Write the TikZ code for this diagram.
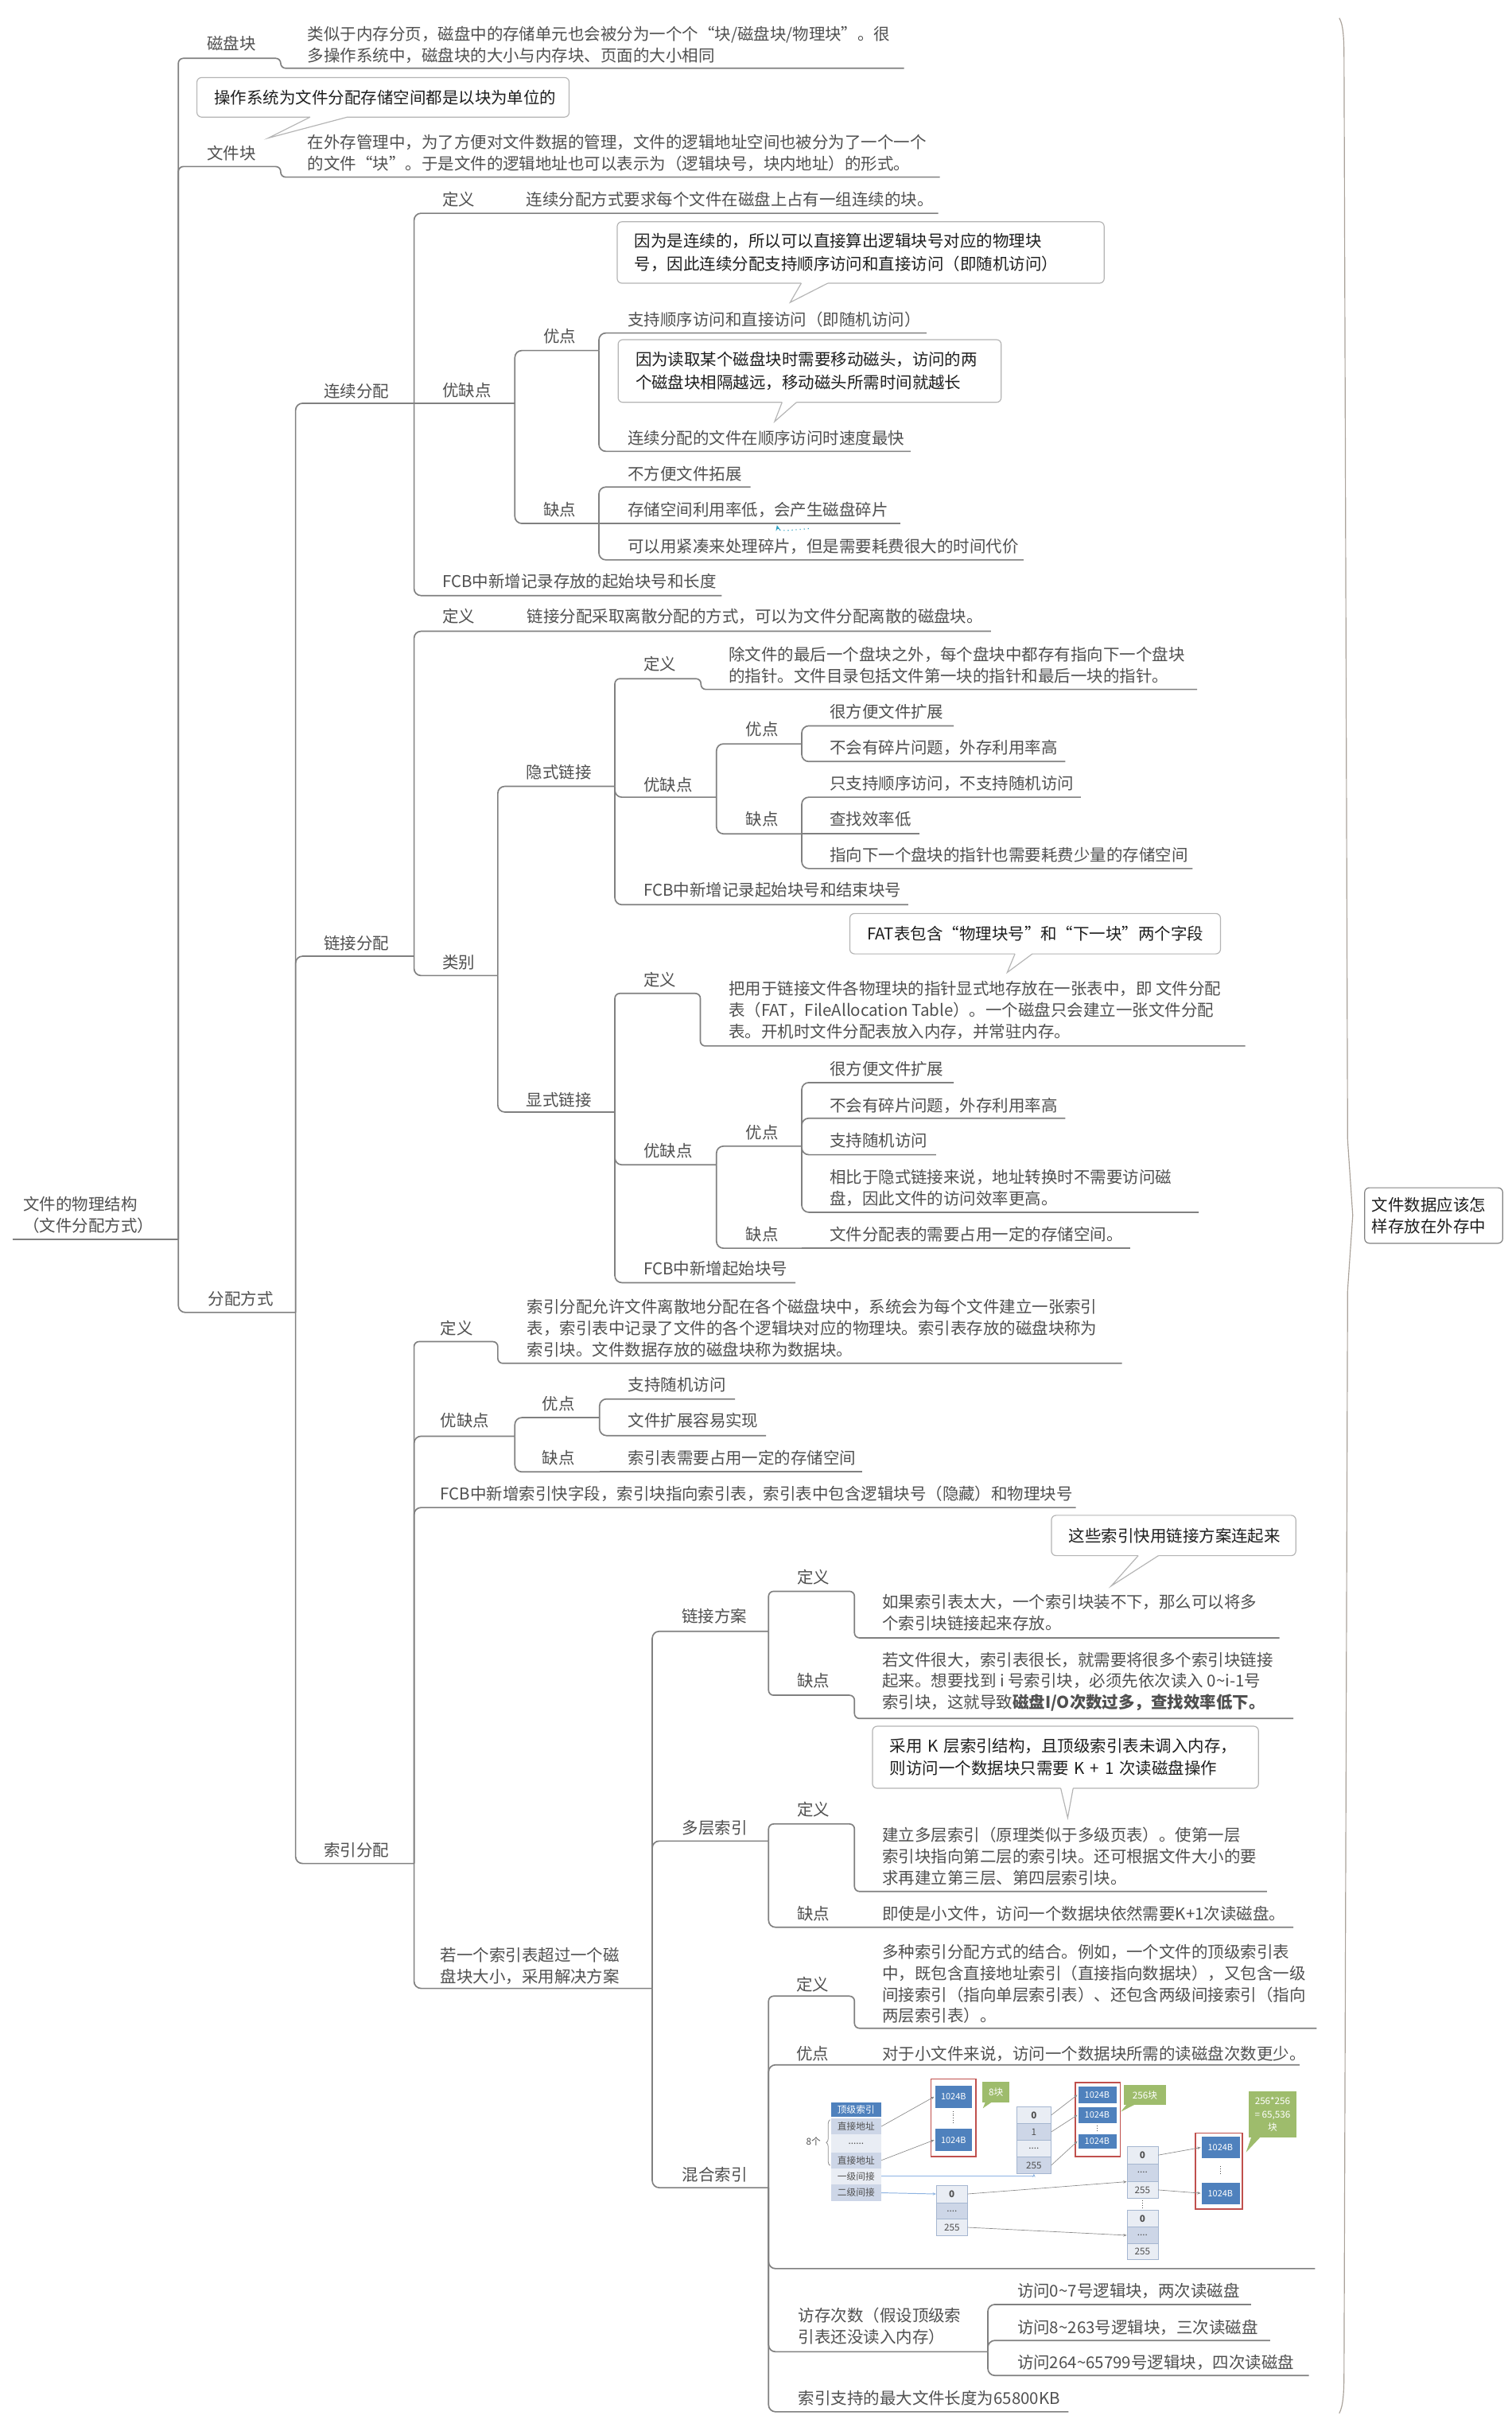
\documentclass[tikz,border=0pt]{standalone}
\usepackage{fontspec}
\setmainfont{Noto Sans CJK SC}
\usetikzlibrary{arrows.meta,decorations.pathreplacing,calc}
\definecolor{linec}{RGB}{128,128,128}
\definecolor{txtc}{RGB}{80,80,80}
\definecolor{ctxt}{RGB}{30,30,30}
\definecolor{cbord}{RGB}{180,180,180}
\definecolor{brkc}{RGB}{170,162,154}
\definecolor{dblue}{RGB}{79,129,189}
\definecolor{rowa}{RGB}{205,214,231}
\definecolor{rowb}{RGB}{233,237,244}
\definecolor{cellbd}{RGB}{165,182,208}
\definecolor{redf}{RGB}{192,80,77}
\definecolor{grn}{RGB}{158,188,108}
\definecolor{arrc}{RGB}{140,140,140}
\definecolor{arrb}{RGB}{141,179,226}
\definecolor{tealc}{RGB}{49,161,193}
\newcommand\nfont{\fontsize{10.5pt}{13.8pt}\selectfont}
\newcommand\cfont{\fontsize{10.5pt}{14.5pt}\selectfont}
\newcommand\dfont{\fontsize{6pt}{7pt}\selectfont}
\newcommand\bfont{\fontsize{5.6pt}{6pt}\selectfont}
\newcommand\ctail[3]{\fill[white] ($#1+(0,-1.2)$) -- #1 -- #3 -- #2 -- ($#2+(0,-1.2)$) -- cycle;
  \draw[draw=cbord,line width=0.6pt] #1 -- #3 -- #2;}
\begin{document}
\begin{tikzpicture}[x=1pt,y=-1pt,
 lbl/.style={anchor=west,inner sep=0pt,outer sep=0pt,align=left,text=txtc,font=\nfont},
 ln/.style={draw=linec,line width=0.85pt,rounded corners=4.5pt},
 lns/.style={draw=linec,line width=0.85pt,rounded corners=3.2pt},
 cbox/.style={draw=cbord,line width=0.6pt,fill=white,rounded corners=3pt,anchor=north west,
   inner xsep=11.2pt,inner ysep=0pt,outer sep=0pt,align=left,text=ctxt,font=\cfont},
 sbox/.style={draw=linec,line width=0.6pt,rounded corners=3pt,anchor=north west,
   inner xsep=4.6pt,inner ysep=0pt,outer sep=0pt,align=left,text=ctxt,font=\nfont},
 dhead/.style={fill=dblue,text=white,font=\dfont,inner sep=0pt,minimum width=32.3pt},
 drow/.style={text=txtc,font=\dfont,inner sep=0pt,minimum width=32.3pt},
 dcell/.style={draw=cellbd,line width=0.3pt,text=txtc,font=\dfont,inner sep=0pt},
 dblk/.style={fill=dblue,draw=white,line width=0.3pt,text=white,font=\bfont,inner sep=0pt},
 dframe/.style={draw=redf,line width=0.8pt,inner sep=0pt},
 dgreen/.style={fill=grn,text=white,font=\dfont,inner sep=0pt,align=center},
 darr/.style={draw=arrc,line width=0.35pt,-{Stealth[length=2.2pt,width=1.8pt]}},
 darrb/.style={draw=arrb,line width=0.5pt,-{Stealth[length=2.2pt,width=1.8pt]}},
 dotl/.style={draw=txtc,line width=0.5pt,densely dotted},
 brk/.style={draw=brkc,line width=0.6pt}
]
\useasboundingbox (0,0) rectangle (975,1567.4);
\fill[white] (0,0) rectangle (975,1567.4);

% ---------------- root
\node[lbl] (root) at (15,783.5) {文件的物理结构\\（文件分配方式）};
\coordinate (rootS) at (8,799);
\coordinate (rootE) at (115,799);
\draw[ln] (rootS) -- (rootE);

% ---------------- level 1
\node[lbl] (cpk) at (133.6,28.2) {磁盘块};
\coordinate (cpkE) at (181,37.6);
\node[lbl] (cpkd) at (198.4,29) {类似于内存分页，磁盘中的存储单元也会被分为一个个“块/磁盘块/物理块”。很\\多操作系统中，磁盘块的大小与内存块、页面的大小相同};
\coordinate (cpkdE) at (583,44);
\node[lbl] (wjk) at (133.6,98.8) {文件块};
\coordinate (wjkE) at (181,107.4);
\node[lbl] (wjkd) at (198.4,98.7) {在外存管理中，为了方便对文件数据的管理，文件的逻辑地址空间也被分为了一个一个\\的文件“块”。于是文件的逻辑地址也可以表示为（逻辑块号，块内地址）的形式。};
\coordinate (wjkdE) at (606,114.2);
\node[lbl] (fpfs) at (134.2,837.3) {分配方式};
\coordinate (fpfsE) at (190.6,846.2);

\draw[lns] (rootE) |- (cpkE) |- (cpkdE);
\draw[lns] (rootE) |- (wjkE) |- (wjkdE);
\draw[ln] (rootE) |- (fpfsE);

\node[cbox,minimum height=25.5pt,text width=217.6pt] (c0) at (127,50) {\mbox{操作系统为文件分配存储空间都是以块为单位的}};
\ctail{(200,75.5)}{(224,75.5)}{(173,89)}

% ---------------- level 2
\node[lbl] (lxfp) at (209,252.3) {连续分配};
\coordinate (lxfpE) at (267,260);
\node[lbl] (ljfp) at (209,608) {链接分配};
\coordinate (ljfpE) at (267,616.5);
\node[lbl] (syfp) at (209,1193) {索引分配};
\coordinate (syfpE) at (267,1201.5);
\draw[ln] (fpfsE) |- (lxfpE);
\draw[ln] (fpfsE) |- (ljfpE);
\draw[ln] (fpfsE) |- (syfpE);

% ---------------- 连续分配
\node[lbl] (lxdy) at (285.2,128.4) {定义};
\coordinate (lxdyE) at (321.5,137.5);
\node[lbl] (lxdyd) at (339.5,128.4) {连续分配方式要求每个文件在磁盘上占有一组连续的块。};
\coordinate (lxdydE) at (605,137.5);
\node[lbl] (lxyqd) at (285.2,251.5) {优缺点};
\coordinate (lxyqdE) at (332,260);
\node[lbl] (lxyd) at (350.4,217) {优点};
\coordinate (lxydE) at (386.2,226);
\node[lbl] (lxy1) at (404.8,205.9) {支持顺序访问和直接访问（即随机访问）};
\coordinate (lxy1E) at (597.5,214.7);
\node[lbl] (lxy2) at (404.8,282.4) {连续分配的文件在顺序访问时速度最快};
\coordinate (lxy2E) at (587.2,291);
\node[lbl] (lxqd) at (350.4,328.6) {缺点};
\coordinate (lxqdE) at (386.2,337.5);
\node[lbl] (lxq1) at (404.8,305.3) {不方便文件拓展};
\coordinate (lxq1E) at (484,314);
\node[lbl] (lxq2) at (404.8,328.6) {存储空间利用率低，会产生磁盘碎片};
\coordinate (lxq2E) at (580.4,337.5);
\node[lbl] (lxq3) at (404.8,352.1) {可以用紧凑来处理碎片，但是需要耗费很大的时间代价};
\coordinate (lxq3E) at (660,361);
\node[lbl] (lxfcb) at (285.2,375) {FCB中新增记录存放的起始块号和长度};
\coordinate (lxfcbE) at (465.4,384);

\draw[ln] (lxfpE) |- (lxdyE) -- (lxdydE);
\draw[ln] (lxfpE) -- (lxyqdE);
\draw[ln] (lxfpE) |- (lxfcbE);
\draw[ln] (lxyqdE) |- (lxydE);
\draw[ln] (lxyqdE) |- (lxqdE);
\draw[ln] (lxydE) |- (lxy1E);
\draw[ln] (lxydE) |- (lxy2E);
\draw[ln] (lxqdE) |- (lxq1E);
\draw[ln] (lxqdE) -- (lxq2E);
\draw[ln] (lxqdE) |- (lxq3E);

\node[cbox,minimum height=39.6pt,text width=291.6pt] (c1) at (398,143) {\mbox{因为是连续的，所以可以直接算出逻辑块号对应的物理块}\\\mbox{号，因此连续分配支持顺序访问和直接访问（即随机访问）}};
\ctail{(516.7,182.6)}{(533.8,182.6)}{(509.5,195)}
\node[cbox,minimum height=40.4pt,text width=224.6pt] (c2) at (398.6,219) {\mbox{因为读取某个磁盘块时需要移动磁头，访问的两}\\\mbox{个磁盘块相隔越远，移动磁头所需时间就越长}};
\ctail{(504.3,259.4)}{(513.6,259.4)}{(499.5,271.8)}

\draw[draw=tealc,line width=0.6pt,dotted,-{Stealth[length=3.5pt,width=3pt]}] (521.5,340.8) .. controls (510,341.8) and (502,343) .. (501,338.6);

% ---------------- 链接分配
\node[lbl] (ljdy) at (285.2,397.4) {定义};
\coordinate (ljdyE) at (321.5,407);
\node[lbl] (ljdyd) at (339.9,397.4) {链接分配采取离散分配的方式，可以为文件分配离散的磁盘块。};
\coordinate (ljdydE) at (639,407);
\node[lbl] (ljlb) at (285.2,620.5) {类别};
\coordinate (ljlbE) at (321,629);
\draw[ln] (ljfpE) |- (ljdyE) -- (ljdydE);
\draw[ln] (ljfpE) |- (ljlbE);

\node[lbl] (yslj) at (339.5,498) {隐式链接};
\coordinate (ysljE) at (396.5,507);
\node[lbl] (ysdy) at (415,428) {定义};
\coordinate (ysdyE) at (452,437.6);
\node[lbl] (ysdyd) at (470,429) {除文件的最后一个盘块之外，每个盘块中都存有指向下一个盘块\\的指针。文件目录包括文件第一块的指针和最后一块的指针。};
\coordinate (ysdydE) at (772,444.5);
\node[lbl] (ysyqd) at (415,506) {优缺点};
\coordinate (ysyqdE) at (462,514);
\node[lbl] (ysyd) at (481,470) {优点};
\coordinate (ysydE) at (517,479.6);
\node[lbl] (ysy1) at (535,459) {很方便文件扩展};
\coordinate (ysy1E) at (615,468);
\node[lbl] (ysy2) at (535,482) {不会有碎片问题，外存利用率高};
\coordinate (ysy2E) at (687,491);
\node[lbl] (ysqd) at (481,528) {缺点};
\coordinate (ysqdE) at (517,537.6);
\node[lbl] (ysq1) at (535,505) {只支持顺序访问，不支持随机访问};
\coordinate (ysq1E) at (697,514);
\node[lbl] (ysq2) at (535,528) {查找效率低};
\coordinate (ysq2E) at (593,537.6);
\node[lbl] (ysq3) at (535,551) {指向下一个盘块的指针也需要耗费少量的存储空间};
\coordinate (ysq3E) at (769,560);
\node[lbl] (ysfcb) at (415,574) {FCB中新增记录起始块号和结束块号};
\coordinate (ysfcbE) at (585.6,583.3);

\draw[ln] (ljlbE) |- (ysljE);
\draw[lns] (ysljE) |- (ysdyE) |- (ysdydE);
\draw[ln] (ysljE) |- (ysyqdE);
\draw[ln] (ysljE) |- (ysfcbE);
\draw[ln] (ysyqdE) |- (ysydE);
\draw[ln] (ysyqdE) |- (ysqdE);
\draw[ln] (ysydE) |- (ysy1E);
\draw[ln] (ysydE) |- (ysy2E);
\draw[ln] (ysqdE) |- (ysq1E);
\draw[ln] (ysqdE) -- (ysq2E);
\draw[ln] (ysqdE) |- (ysq3E);

\node[lbl] (xslj) at (339.5,709) {显式链接};
\coordinate (xsljE) at (396.5,717);
\node[lbl] (xsdy) at (415,631.6) {定义};
\coordinate (xsdyE) at (451.6,640.5);
\node[lbl] (xsdyd) at (470,651.2) {把用于链接文件各物理块的指针显式地存放在一张表中，即 文件分配\\表（FAT，FileAllocation Table）。一个磁盘只会建立一张文件分配\\表。开机时文件分配表放入内存，并常驻内存。};
\coordinate (xsdydE) at (803,674.4);
\node[lbl] (xsyqd) at (415,742) {优缺点};
\coordinate (xsyqdE) at (462,751);
\node[lbl] (xsyd) at (481,730) {优点};
\coordinate (xsydE) at (517,739);
\node[lbl] (xsy1) at (535,689) {很方便文件扩展};
\coordinate (xsy1E) at (615,698);
\node[lbl] (xsy2) at (535,713) {不会有碎片问题，外存利用率高};
\coordinate (xsy2E) at (687,721);
\node[lbl] (xsy3) at (535,735.5) {支持随机访问};
\coordinate (xsy3E) at (603.6,744.5);
\node[lbl] (xsy4) at (535,765.9) {相比于隐式链接来说，地址转换时不需要访问磁\\盘，因此文件的访问效率更高。};
\coordinate (xsy4E) at (773,781.6);
\node[lbl] (xsqd) at (481,795.7) {缺点};
\coordinate (xsqdE) at (517,804.8);
\node[lbl] (xsq1) at (535,795.7) {文件分配表的需要占用一定的存储空间。};
\coordinate (xsq1E) at (728.6,804.8);
\node[lbl] (xsfcb) at (415,818) {FCB中新增起始块号};
\coordinate (xsfcbE) at (513,827);

\draw[ln] (ljlbE) |- (xsljE);
\draw[lns] (xsljE) |- (xsdyE) |- (xsdydE);
\draw[ln] (xsljE) |- (xsyqdE);
\draw[ln] (xsljE) |- (xsfcbE);
\draw[ln] (xsyqdE) |- (xsydE);
\draw[ln] (xsyqdE) |- (xsqdE);
\draw[ln] (xsydE) |- (xsy1E);
\draw[ln] (xsydE) |- (xsy2E);
\draw[ln] (xsydE) |- (xsy3E);
\draw[ln] (xsydE) |- (xsy4E);
\draw[ln] (xsqdE) -- (xsq1E);

\node[cbox,minimum height=26pt,text width=216.6pt] (c3) at (548,589) {\mbox{FAT表包含“物理块号”和“下一块”两个字段}};
\ctail{(654.5,615)}{(665.7,615)}{(649.5,627)}

% ---------------- 索引分配
\node[lbl] (sydy) at (284,856.5) {定义};
\coordinate (sydyE) at (321,865);
\node[lbl] (sydyd) at (340,856.5) {索引分配允许文件离散地分配在各个磁盘块中，系统会为每个文件建立一张索引\\表，索引表中记录了文件的各个逻辑块对应的物理块。索引表存放的磁盘块称为\\索引块。文件数据存放的磁盘块称为数据块。};
\coordinate (sydydE) at (723.5,879);
\node[lbl] (syyqd) at (284,916) {优缺点};
\coordinate (syyqdE) at (332,926);
\node[lbl] (syyd) at (349.6,905) {优点};
\coordinate (syydE) at (386.6,914);
\node[lbl] (syy1) at (405,893) {支持随机访问};
\coordinate (syy1E) at (474,902);
\node[lbl] (syy2) at (405,916) {文件扩展容易实现};
\coordinate (syy2E) at (494,925.6);
\node[lbl] (syqd) at (349.6,940) {缺点};
\coordinate (syqdE) at (386.6,949);
\node[lbl] (syq1) at (405,940) {索引表需要占用一定的存储空间};
\coordinate (syq1E) at (556,949);
\node[lbl] (syfcb) at (284,963) {FCB中新增索引快字段，索引块指向索引表，索引表中包含逻辑块号（隐藏）和物理块号};
\coordinate (syfcbE) at (693.7,972);
\node[lbl] (sybig) at (284,1267.5) {若一个索引表超过一个磁\\盘块大小，采用解决方案};
\coordinate (sybigE) at (420.6,1282);

\draw[lns] (syfpE) |- (sydyE) |- (sydydE);
\draw[ln] (syfpE) |- (syyqdE);
\draw[ln] (syfpE) |- (syfcbE);
\draw[ln] (syfpE) |- (sybigE);
\draw[ln] (syyqdE) |- (syydE);
\draw[ln] (syyqdE) |- (syqdE);
\draw[ln] (syydE) |- (syy1E);
\draw[ln] (syydE) |- (syy2E);
\draw[ln] (syqdE) -- (syq1E);

\node[lbl] (ljfa) at (439.7,1042) {链接方案};
\coordinate (ljfaE) at (495.6,1051.8);
\node[lbl] (lfdy) at (514,1016.7) {定义};
\coordinate (lfdyE) at (551,1026);
\node[lbl] (lfdyd) at (569,1039.75) {如果索引表太大，一个索引块装不下，那么可以将多\\个索引块链接起来存放。};
\coordinate (lfdydE) at (825,1056);
\node[lbl] (lfqd) at (514,1083.7) {缺点};
\coordinate (lfqdE) at (551,1093);
\node[lbl] (lfqdd) at (569,1084.3) {若文件很大，索引表很长，就需要将很多个索引块链接\\起来。想要找到 i 号索引块，必须先依次读入 0\textasciitilde i-1号\\索引块，这就导致{\bfseries 磁盘I/O次数过多，查找效率低下。}};
\coordinate (lfqddE) at (834,1108);

\node[lbl] (dcsy) at (440,1178.6) {多层索引};
\coordinate (dcsyE) at (495.6,1187);
\node[lbl] (dcdy) at (514,1166.5) {定义};
\coordinate (dcdyE) at (551,1176);
\node[lbl] (dcdyd) at (569,1196.7) {建立多层索引（原理类似于多级页表）。使第一层\\索引块指向第二层的索引块。还可根据文件大小的要\\求再建立第三层、第四层索引块。};
\coordinate (dcdydE) at (817,1219.5);
\node[lbl] (dcqd) at (514,1234) {缺点};
\coordinate (dcqdE) at (551,1242.6);
\node[lbl] (dcqdd) at (569,1234) {即使是小文件，访问一个数据块依然需要K+1次读磁盘。};
\coordinate (dcqddE) at (834,1242.6);

\node[lbl] (hhsy) at (440,1402) {混合索引};
\coordinate (hhsyE) at (495.6,1410.5);
\node[lbl] (hhdy) at (513.5,1279.6) {定义};
\coordinate (hhdyE) at (551,1287);
\node[lbl] (hhdyd) at (569,1279.1) {多种索引分配方式的结合。例如，一个文件的顶级索引表\\中，既包含直接地址索引（直接指向数据块），又包含一级\\间接索引（指向单层索引表）、还包含两级间接索引（指向\\两层索引表）。};
\coordinate (hhdydE) at (849,1307.7);
\node[lbl] (hhyd) at (513.5,1324) {优点};
\coordinate (hhydE) at (551,1331.3);
\node[lbl] (hhydd) at (569,1324) {对于小文件来说，访问一个数据块所需的读磁盘次数更少。};
\coordinate (hhyddE) at (838,1331.3);
\coordinate (hhimgE) at (848,1462.7);
\node[lbl] (hhfc) at (514.8,1500) {访存次数（假设顶级索\\引表还没读入内存）};
\coordinate (hhfcE) at (637,1516.3);
\node[lbl] (hhf1) at (656,1477) {访问0\textasciitilde 7号逻辑块，两次读磁盘};
\coordinate (hhf1E) at (806.7,1485.8);
\node[lbl] (hhf2) at (656,1500.5) {访问8\textasciitilde 263号逻辑块，三次读磁盘};
\coordinate (hhf2E) at (819,1509);
\node[lbl] (hhf3) at (656,1523) {访问264\textasciitilde 65799号逻辑块，四次读磁盘};
\coordinate (hhf3E) at (844,1531.6);
\node[lbl] (hhmax) at (514.8,1546) {索引支持的最大文件长度为65800KB};
\coordinate (hhmaxE) at (689,1555);

\draw[ln] (sybigE) |- (ljfaE);
\draw[ln] (sybigE) |- (dcsyE);
\draw[ln] (sybigE) |- (hhsyE);
\draw[lns] (ljfaE) |- (lfdyE) |- (lfdydE);
\draw[lns] (ljfaE) |- (lfqdE) |- (lfqddE);
\draw[lns] (dcsyE) |- (dcdyE) |- (dcdydE);
\draw[ln] (dcsyE) |- (dcqdE) -- (dcqddE);
\draw[lns] (hhsyE) |- (hhdyE) |- (hhdydE);
\draw[ln] (hhsyE) |- (hhydE) -- (hhyddE);
\draw[ln] (hhsyE) |- (hhimgE);
\draw[ln] (hhsyE) |- (hhfcE);
\draw[ln] (hhsyE) |- (hhmaxE);
\draw[ln] (hhfcE) |- (hhf1E);
\draw[ln] (hhfcE) |- (hhf2E);
\draw[ln] (hhfcE) |- (hhf3E);

\node[cbox,minimum height=26pt,text width=135.2pt] (c4) at (678,977) {\mbox{这些索引快用链接方案连起来}};
\ctail{(734,1003)}{(747,1003)}{(716.5,1022.6)}
\node[cbox,minimum height=40pt,text width=226.5pt] (c5) at (562.6,1113) {\mbox{采用 K 层索引结构，且顶级索引表未调入内存，}\\\mbox{则访问一个数据块只需要 K + 1 次读磁盘操作}};
\ctail{(684,1153)}{(692,1153)}{(688.5,1172)}

% ---------------- diagram (混合索引)
\node[dhead,minimum height=9pt] (th) at (552.05,1360.1) {顶级索引};
\node[drow,fill=rowa,minimum height=10.3pt] (t1) at (552.05,1370.95) {直接地址};
\node[drow,fill=rowb,minimum height=11.6pt] (t2) at (552.05,1381.9) {......};
\node[drow,fill=rowa,minimum height=10.3pt] (t3) at (552.05,1392.85) {直接地址};
\node[drow,fill=rowb,minimum height=10.5pt] (t4) at (552.05,1403.25) {一级间接};
\node[drow,fill=rowa,minimum height=10.6pt] (t5) at (552.05,1413.8) {二级间接};
\node[font=\dfont,text=txtc,inner sep=0pt] (n8) at (524.5,1380.7) {8个};
\draw[decorate,decoration={brace,amplitude=2.5pt},draw=arrc,line width=0.4pt] (535.3,1396.2) -- (535.3,1366.7);

\node[dframe,minimum width=28.9pt,minimum height=49.8pt] (g1f) at (614.85,1365.4) {};
\node[dblk,minimum width=24.5pt,minimum height=14.9pt] (g1a) at (614.85,1351.85) {1024B};
\node[dblk,minimum width=24.5pt,minimum height=14.9pt] (g1b) at (614.85,1379.75) {1024B};
\draw[dotl] (614.85,1361) -- (614.85,1370);

\node[dcell,fill=rowb,minimum width=22.2pt,minimum height=11.1pt] (m0) at (666.7,1363.65) {\textbf{0}};
\node[dcell,fill=rowa,minimum width=22.2pt,minimum height=10.6pt] (m1) at (666.7,1374.5) {1};
\node[dcell,fill=rowb,minimum width=22.2pt,minimum height=10.8pt] (m2) at (666.7,1385.2) {....};
\node[dcell,fill=rowa,minimum width=22.2pt,minimum height=10.8pt] (m3) at (666.7,1396) {255};

\node[dframe,minimum width=28.9pt,minimum height=47.6pt] (g2f) at (707.85,1366.5) {};
\node[dblk,minimum width=25.2pt,minimum height=11.5pt] (g2a) at (707.5,1350.65) {1024B};
\node[dblk,minimum width=25.2pt,minimum height=11.1pt] (g2b) at (707.5,1363.65) {1024B};
\node[dblk,minimum width=25.2pt,minimum height=9.8pt] (g2c) at (707.5,1380.6) {1024B};
\draw[dotl] (707.5,1370.3) -- (707.5,1374.6);

\node[dcell,fill=rowb,minimum width=20pt,minimum height=11.3pt] (l0) at (613.8,1414.55) {\textbf{0}};
\node[dcell,fill=rowa,minimum width=20pt,minimum height=10.6pt] (l1) at (613.8,1425.5) {....};
\node[dcell,fill=rowb,minimum width=20pt,minimum height=10.6pt] (l2) at (613.8,1436.1) {255};

\node[dcell,fill=rowb,minimum width=20pt,minimum height=11.4pt] (a0) at (736.7,1389.5) {\textbf{0}};
\node[dcell,fill=rowa,minimum width=20pt,minimum height=11.3pt] (a1) at (736.7,1400.85) {....};
\node[dcell,fill=rowb,minimum width=20pt,minimum height=10.9pt] (a2) at (736.7,1411.95) {255};
\draw[dotl] (736.7,1418.8) -- (736.7,1423.5);
\node[dcell,fill=rowb,minimum width=20pt,minimum height=10.8pt] (b0) at (736.7,1430.5) {\textbf{0}};
\node[dcell,fill=rowa,minimum width=20pt,minimum height=10.6pt] (b1) at (736.7,1441.2) {....};
\node[dcell,fill=rowb,minimum width=20pt,minimum height=10.2pt] (b2) at (736.7,1451.6) {255};

\node[dframe,minimum width=30.2pt,minimum height=49.1pt] (g3f) at (786.1,1399.75) {};
\node[dblk,minimum width=25.1pt,minimum height=14.4pt] (g3a) at (786.95,1384.6) {1024B};
\node[dblk,minimum width=25.1pt,minimum height=14.6pt] (g3b) at (786.95,1414.1) {1024B};
\draw[dotl] (786.95,1396.5) -- (786.95,1402.5);

\node[dgreen,minimum width=17.8pt,minimum height=13.4pt] (gc1) at (642.2,1348.9) {8块};
\fill[grn] (635.5,1355) -- (633.8,1359.3) -- (640,1355) -- cycle;
\node[dgreen,minimum width=27.6pt,minimum height=12.9pt] (gc2) at (738.3,1350.85) {256块};
\fill[grn] (726.5,1356.8) -- (722.8,1361.5) -- (732,1356.8) -- cycle;
\node[dgreen,minimum width=31.2pt,minimum height=29.7pt,font=\fontsize{6pt}{8.3pt}\selectfont] (gc3) at (820.6,1363.25) {256*256\\= 65,536\\块};
\fill[grn] (807,1377.6) -- (803.5,1387.7) -- (813,1377.6) -- cycle;

\draw[darr] (t1.east) -- (g1a.west);
\draw[darr] (t3.east) -- (g1b.west);
\draw[darrb] (t4.east) -| (m3.south);
\draw[darrb] (t5.east) -- (l0.west);
\draw[darr] (m0.east) -- (g2a.west);
\draw[darr] (m1.east) -- (g2b.west);
\draw[darr] (m3.east) -- (g2c.west);
\draw[darr] (l0.east) -- (a1.south west);
\draw[darr] (l2.east) -- (b1.west);
\draw[darr] (a0.east) -- (g3a.west);
\draw[darr] (a2.east) -- (g3b.west);

% ---------------- right brace and summary
\draw[brk] (863.6,11.6) .. controls (866.3,16) and (866.7,25) .. (866.7,40) -- (869,735) -- (872.3,783.6) -- (869,832) -- (866.7,1527) .. controls (866.7,1542) and (866.3,1551) .. (863.6,1556);
\node[sbox,minimum height=35.8pt,text width=79.8pt] (sum) at (880,765.8) {文件数据应该怎\\样存放在外存中};
\end{tikzpicture}
\end{document}
